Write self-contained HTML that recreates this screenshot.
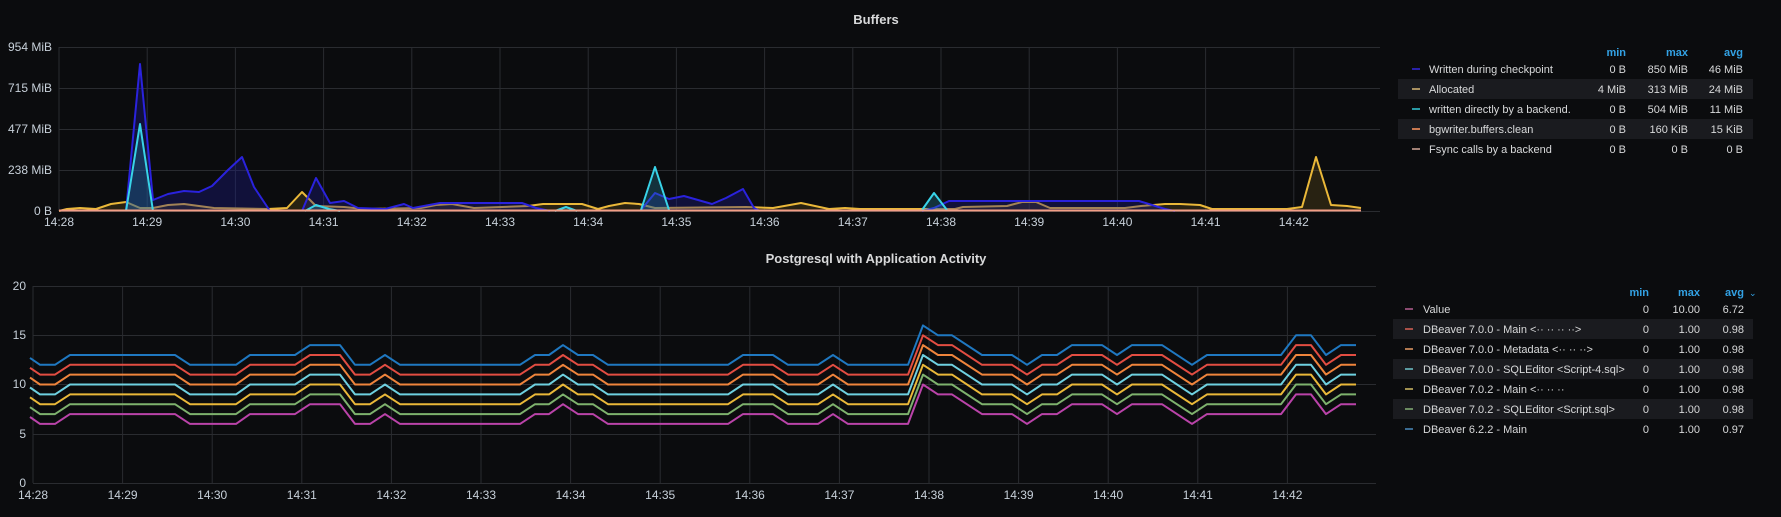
<!DOCTYPE html>
<html><head><meta charset="utf-8"><style>
html,body{margin:0;padding:0;background:#0b0c0e;width:1781px;height:517px;overflow:hidden}
svg{display:block;font-family:"Liberation Sans",sans-serif}
</style></head><body>
<svg id="s" width="1781" height="517" viewBox="0 0 1781 517" xmlns="http://www.w3.org/2000/svg">
<rect width="1781" height="517" fill="#0b0c0e"/>
<text x="876" y="24" fill="#d8d9da" font-size="13" font-weight="bold" text-anchor="middle">Buffers</text>
<text x="876" y="263" fill="#d8d9da" font-size="13" font-weight="bold" text-anchor="middle">Postgresql with Application Activity</text>
<g id="grid" stroke="#2a2c30" stroke-width="1" fill="none"></g>
<g id="labels" fill="#c7d0d9" font-size="12"></g>
<g id="top"></g>
<g id="bot" fill="none" stroke-width="2" stroke-linejoin="round"></g>
<g id="leg" font-size="11"></g>
</svg>
<script>
var NS="http://www.w3.org/2000/svg";
function el(p,t,a,txt){var e=document.createElementNS(NS,t);for(var k in a)e.setAttribute(k,a[k]);if(txt!=null)e.textContent=txt;document.getElementById(p).appendChild(e);return e;}
var tL=59,tR=1380,tS=88.2,tys=[47,88,129,170,211],tyl=["954 MiB","715 MiB","477 MiB","238 MiB","0 B"];
tys.forEach(function(y,i){el("grid","line",{x1:tL,x2:tR,y1:y+.5,y2:y+.5});el("labels","text",{x:52,y:y+4,"text-anchor":"end"},tyl[i]);});
for(var m=0;m<=14;m++){var x=tL+m*tS;el("grid","line",{x1:x,x2:x,y1:47,y2:211});el("labels","text",{x:x,y:226,"text-anchor":"middle"},"14:"+(28+m));}
el("grid","line",{x1:tL,x2:tL,y1:47,y2:211});
var bL=33,bR=1376,bS=89.6;
[[286,"20"],[335,"15"],[384,"10"],[434,"5"],[483,"0"]].forEach(function(a){el("grid","line",{x1:bL,x2:bR,y1:a[0]+.5,y2:a[0]+.5});el("labels","text",{x:26,y:a[0]+4,"text-anchor":"end"},a[1]);});
for(var m=0;m<=14;m++){var x=bL+m*bS;el("grid","line",{x1:x,x2:x,y1:286,y2:483});el("labels","text",{x:x,y:499,"text-anchor":"middle"},"14:"+(28+m));}
function pts(a){return a.map(function(p){return p[0]+","+p[1]}).join(" ");}
function series(arr,col,fill){
 if(fill){var f=arr.slice();f.unshift([arr[0][0],211]);f.push([arr[arr.length-1][0],211]);el("top","polygon",{points:pts(f),fill:fill,stroke:"none"});}
 el("top","polyline",{points:pts(arr),fill:"none",stroke:col,"stroke-width":2,"stroke-linejoin":"round"});}
var yel=[[59,211],[67,209],[80,208],[96,209],[111,204],[126,202],[140,208],[153,208],[168,205],[184,204],[214,208],[268,209],[287,208],[302,192],[316,206],[344,207],[364,209],[421,208],[436,205],[452,204],[474,208],[528,206],[543,204],[582,204],[598,209],[609,206],[625,203],[639,204],[655,208],[746,207],[773,208],[801,203],[829,209],[845,208],[860,209],[916,209],[955,209],[963,207],[1007,206],[1022,202],[1036,202],[1050,208],[1125,208],[1141,206],[1165,204],[1180,204],[1200,205],[1212,209],[1287,209],[1302,207],[1316,157],[1331,205],[1347,206],[1361,208]];
var blu1=[[126,211],[140,64],[153,200],[168,194],[184,191],[199,192],[212,186],[228,170],[242,157],[254,187],[270,211]];
var blu2=[[302,211],[316,178],[330,203],[344,201],[358,208],[385,209],[404,204],[413,208],[440,203],[522,203],[536,208],[550,211]];
var blu3=[[641,210],[655,193],[669,199],[684,196],[712,204],[726,198],[743,189],[754,208],[760,211]];
var blu4=[[922,211],[934,208],[949,201],[1139,201],[1165,209],[1175,211]];
var cy1=[[126,211],[140,124],[153,211]],cy2=[[305,211],[316,205],[329,209],[340,211]],cy3=[[555,211],[566,207],[577,211]],cy4=[[641,210],[655,167],[669,210]],cy5=[[922,210],[934,193],[947,210]];
series(yel,"#eab839","rgba(120,95,30,0.28)");
[blu1,blu2,blu3,blu4].forEach(function(b){series(b,"#2a22dd","rgba(30,30,140,0.35)");});
[cy1,cy2,cy3,cy4,cy5].forEach(function(b){series(b,"#38d3e8","rgba(40,140,170,0.3)");});
el("top","line",{x1:59,x2:1361,y1:210.5,y2:210.5,stroke:"#f29e86","stroke-width":2});
var mg=[[30,6.7],[40,6],[55,6],[70,7],[175,7],[190,6],[236,6],[250,7],[295,7],[310,8],[340,8],[355,6],[370,6],[385,7],[400,6],[520,6],[535,7],[549,7],[563,8],[578,7],[593,7],[608,6],[728,6],[743,7],[773,7],[788,6],[818,6],[833,7],[848,6],[908,6],[923,10],[938,9],[952,9],[982,7],[1012,7],[1027,6],[1042,7],[1057,7],[1072,8],[1102,8],[1117,7],[1132,8],[1162,8],[1192,6],[1207,7],[1281,7],[1296,9],[1311,9],[1326,7],[1341,8],[1356,8]];
var cols=["#ba43a9","#7eb26d","#eab839","#6ed0e0","#ef843c","#e24d42","#1f78c1"];
cols.forEach(function(c,k){el("bot","polyline",{points:mg.map(function(p){return p[0]+","+(483-(p[1]+k)*9.85).toFixed(1)}).join(" "),stroke:c});});
function legend(hy,rows,dx,tx,cols3,band,bx){
 var hd=["min","max","avg"];
 hd.forEach(function(h,i){el("leg","text",{x:cols3[i],y:hy+4,"text-anchor":"end",fill:"#33a2e5","font-weight":"bold","font-size":"11"},h);});
 rows.forEach(function(r,i){var y=hy+17+i*20;
  if(i%2==1)el("leg","rect",{x:bx,y:y-10,width:1753-bx,height:20,fill:"#1a1b1f"});
  el("leg","line",{x1:dx,x2:dx+8,y1:y,y2:y,stroke:r[1],"stroke-width":2});
  el("leg","text",{x:tx,y:y+4,fill:"#d8d9da"},r[0]);
  for(var j=0;j<3;j++)el("leg","text",{x:cols3[j],y:y+4,"text-anchor":"end",fill:"#d8d9da"},r[2+j]);});
}
legend(52,[["Written during checkpoint","#2a22aa","0 B","850 MiB","46 MiB"],["Allocated","#a89060","4 MiB","313 MiB","24 MiB"],["written directly by a backend.","#2a9aa5","0 B","504 MiB","11 MiB"],["bgwriter.buffers.clean","#c87850","0 B","160 KiB","15 KiB"],["Fsync calls by a backend","#a08075","0 B","0 B","0 B"]],1412,1429,[1626,1688,1743],true,1398);
legend(292,[["Value","#8a4a70","0","10.00","6.72"],["DBeaver 7.0.0 - Main <·· ·· ·· ··>","#a85048","0","1.00","0.98"],["DBeaver 7.0.0 - Metadata <·· ·· ··>","#b07850","0","1.00","0.98"],["DBeaver 7.0.0 - SQLEditor <Script-4.sql>","#5a9aa0","0","1.00","0.98"],["DBeaver 7.0.2 - Main <·· ·· ··","#a09050","0","1.00","0.98"],["DBeaver 7.0.2 - SQLEditor <Script.sql>","#6a8a60","0","1.00","0.98"],["DBeaver 6.2.2 - Main","#3a6a90","0","1.00","0.97"]],1405,1423,[1649,1700,1744],true,1393);
el("leg","text",{x:1749,y:296,fill:"#33a2e5","font-size":"9"},"⌄");
</script>
</body></html>
